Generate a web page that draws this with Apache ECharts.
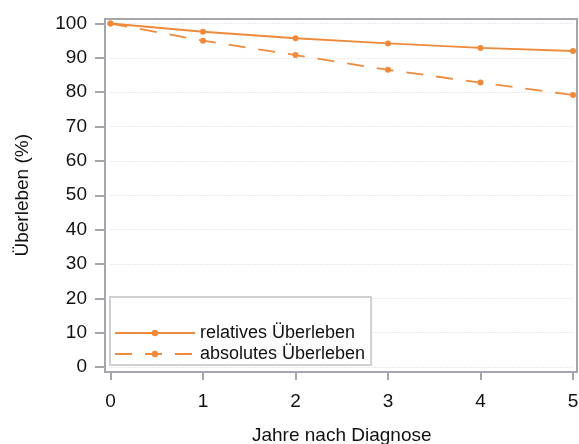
<!DOCTYPE html>
<html><head><meta charset="utf-8">
<script src="https://cdn.jsdelivr.net/npm/echarts@6/dist/echarts.min.js"></script>
<style>html,body{margin:0;padding:0;background:#fff}#c{width:579px;height:444px}</style>
</head><body><div id="c"></div>
<script>
const years = [0, 1, 2, 3, 4, 5];
const relativ = [100, 97.6, 95.7, 94.2, 92.9, 92.0];
const absolut = [100, 95.0, 90.8, 86.5, 82.8, 79.2];
const yTicks = [0, 10, 20, 30, 40, 50, 60, 70, 80, 90, 100];
const xTicks = [0, 1, 2, 3, 4, 5];

const orange = '#ee8a3c';
const frame = '#a3a7ab';
const font = 'Liberation Sans, Arial, sans-serif';
const chart = echarts.init(document.getElementById('c'));
chart.setOption({
  animation: false,
  grid: [
    {left: 105, right: 2, top: 19, bottom: 72, show: true, borderColor: frame, borderWidth: 2,
     backgroundColor: 'transparent', containLabel: false, outerBoundsMode: 'none'},
    {left: 110.5, right: 6, top: 23.5, bottom: 77, containLabel: false, outerBoundsMode: 'none'}
  ],
  xAxis: [
    {gridIndex: 0, type: 'value', show: false, min: 0, max: 1},
    {gridIndex: 1, type: 'value', min: 0, max: 5, interval: 1, offset: 5,
     name: 'Jahre nach Diagnose', nameLocation: 'middle', nameGap: 54,
     nameTextStyle: {fontFamily: font, fontSize: 19, color: '#111'},
     axisLine: {show: false, onZero: false},
     axisTick: {show: true, inside: false, length: 8, lineStyle: {color: frame, width: 2}},
     axisLabel: {fontFamily: font, fontSize: 19, color: '#111', margin: 20},
     splitLine: {show: false}}
  ],
  yAxis: [
    {gridIndex: 0, type: 'value', show: false, min: 0, max: 1},
    {gridIndex: 1, type: 'value', min: 0, max: 100, interval: 10, offset: 5.5,
     name: 'Überleben (%)', nameLocation: 'middle', nameGap: 73, nameRotate: 90,
     nameTextStyle: {fontFamily: font, fontSize: 19, color: '#111'},
     axisLine: {show: false, onZero: false},
     axisTick: {show: true, inside: false, length: 10, lineStyle: {color: frame, width: 2}},
     axisLabel: {fontFamily: font, fontSize: 19, color: '#111', margin: 18},
     splitLine: {show: true, lineStyle: {color: '#d4d4d4', type: [1, 2], width: 1}}}
  ],
  legend: {
    orient: 'vertical', left: 110, top: 297,
    padding: [27, 6, 2, 4], itemGap: 3, itemWidth: 80, itemHeight: 8,
    borderColor: '#d0d0d0', borderWidth: 2, backgroundColor: '#fff',
    textStyle: {fontFamily: font, fontSize: 18, color: '#111'},
    data: ['relatives Überleben', 'absolutes Überleben']
  },
  series: [
    {name: 'relatives Überleben', type: 'line', xAxisIndex: 1, yAxisIndex: 1,
     data: years.map((x, i) => [x, relativ[i]]),
     symbol: 'circle', symbolSize: 6, color: orange,
     lineStyle: {color: orange, width: 1.8}, itemStyle: {color: orange}},
    {name: 'absolutes Überleben', type: 'line', xAxisIndex: 1, yAxisIndex: 1,
     data: years.map((x, i) => [x, absolut[i]]),
     symbol: 'circle', symbolSize: 6, color: orange,
     lineStyle: {color: orange, width: 1.8, type: [17, 13]}, itemStyle: {color: orange}}
  ]
});
</script></body></html>
